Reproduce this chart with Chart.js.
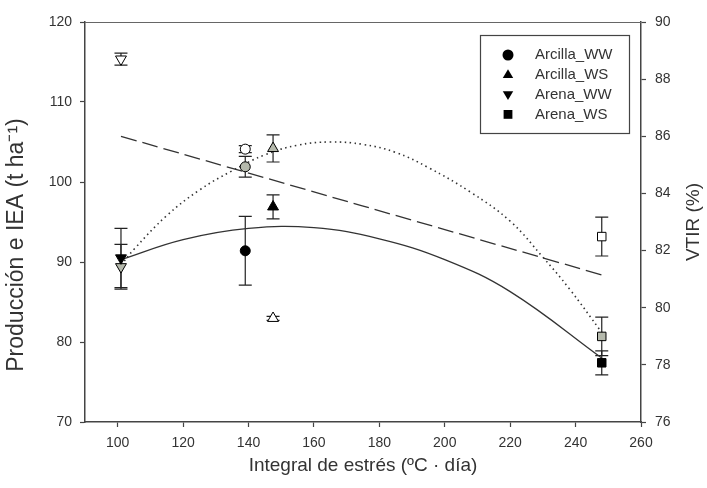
<!DOCTYPE html>
<html>
<head>
<meta charset="utf-8">
<script src="https://cdn.jsdelivr.net/npm/chart.js"></script>
<style>
  body { margin: 0; background: #fff; }
  #wrap { width: 707px; height: 488px; }
</style>
</head>
<body>
<div id="wrap"><canvas id="stressChart" width="707" height="488"></canvas></div>
<script>
// treatments, in the order of the legend
const treatments = ["Arcilla_WW", "Arcilla_WS", "Arena_WW", "Arena_WS"];
const markerStyles = ["circle", "triangle", "triangle", "rect"];
const markerRotation = [0, 0, 180, 0];

// stress integral (ºC · día) of each treatment
const stressIntegral = [139, 147.5, 101, 248];

// production (black, left axis)
const yieldMean = [91.4, 96.9, 90.5, 77.4];
const yieldErr = [4.3, 1.5, 3.7, 1.5];
// IEA (grey, left axis)
const ieaMean = [101.9, 104.2, 89.4, 80.7];
const ieaErr = [1.3, 1.7, 2.8, 2.4];
// VTIR (open, right axis)
const vtirMean = [85.55, 79.63, 88.7, 82.49];
const vtirErr = [0.12, 0.07, 0.21, 0.68];

// fitted curves
const yieldFitX = [101, 120, 140, 160, 180, 200, 220, 248];
const yieldFitY = [90.3, 92.8, 94.2, 94.3, 92.9, 90.3, 86.3, 78.0];
const ieaFitX = [101, 105, 115, 125, 135, 145, 155, 165, 175, 185, 195, 208, 220, 230, 238, 248];
const ieaFitY = [89.6, 91.6, 95.8, 99.0, 101.4, 103.4, 104.6, 105.0, 104.7, 103.7, 101.8, 98.7, 95.1, 90.6, 86.7, 81.2];
const vtirFitX = [101, 248];
const vtirFitY = [86.0, 81.15];

// tick labels
const xTicks = [100, 120, 140, 160, 180, 200, 220, 240, 260];
const leftTicks = [70, 80, 90, 100, 110, 120];
const rightTicks = [76, 78, 80, 82, 84, 86, 88, 90];

const FONT = "'Liberation Sans', Arial, sans-serif";
const AXIS = "#444";
const GREY = "#b5b9ac";

function pts(xs, ys) {
  return xs.map((x, i) => ({ x: x, y: ys[i] }));
}

function markerSet(label, values, errs, fill, axis) {
  return {
    label: label,
    data: pts(stressIntegral, values),
    yAxisID: axis,
    errorBars: errs,
    showLine: false,
    pointStyle: markerStyles,
    rotation: markerRotation,
    pointRadius: [5, 6.3, 6.3, 6],
    pointBackgroundColor: fill,
    pointBorderColor: "#000",
    pointBorderWidth: 1,
    order: 1
  };
}

function fitSet(label, xs, ys, axis, dash, width) {
  return {
    label: label,
    data: pts(xs, ys),
    yAxisID: axis,
    showLine: true,
    pointRadius: 0,
    borderColor: "#333",
    borderWidth: width,
    borderDash: dash,
    tension: 0.4,
    fill: false,
    order: 5
  };
}

// error bars, drawn below the markers
const errorBarPlugin = {
  id: "errorBars",
  beforeDatasetsDraw(chart) {
    const ctx = chart.ctx;
    ctx.save();
    ctx.strokeStyle = "#222";
    ctx.lineWidth = 1.2;
    chart.data.datasets.forEach((ds, di) => {
      if (!ds.errorBars) return;
      const meta = chart.getDatasetMeta(di);
      const yScale = chart.scales[ds.yAxisID];
      meta.data.forEach((el, i) => {
        const v = ds.data[i].y;
        const e = ds.errorBars[i];
        const top = yScale.getPixelForValue(v + e);
        const bot = yScale.getPixelForValue(v - e);
        const x = el.x;
        ctx.beginPath();
        ctx.moveTo(x, top); ctx.lineTo(x, bot);
        ctx.moveTo(x - 6.5, top); ctx.lineTo(x + 6.5, top);
        ctx.moveTo(x - 6.5, bot); ctx.lineTo(x + 6.5, bot);
        ctx.stroke();
      });
    });
    ctx.restore();
  }
};

function drawMarker(ctx, style, rot, x, y, r) {
  ctx.beginPath();
  if (style === "circle") {
    ctx.arc(x, y, r, 0, Math.PI * 2);
  } else if (style === "rect") {
    const s = r * 0.8;
    ctx.rect(x - s, y - s, 2 * s, 2 * s);
  } else {
    const d = rot === 180 ? -1 : 1;
    ctx.moveTo(x, y - d * r);
    ctx.lineTo(x + r * 0.95, y + d * r * 0.6);
    ctx.lineTo(x - r * 0.95, y + d * r * 0.6);
    ctx.closePath();
  }
  ctx.fill();
}

// frame top line, legend box and axis titles
const decorPlugin = {
  id: "decor",
  afterDraw(chart) {
    const ctx = chart.ctx;
    const a = chart.chartArea;
    ctx.save();
    ctx.strokeStyle = "#666";
    ctx.lineWidth = 1;
    ctx.beginPath();
    ctx.moveTo(a.left, a.top + 0.5);
    ctx.lineTo(a.right, a.top + 0.5);
    ctx.stroke();

    // legend
    ctx.strokeStyle = AXIS;
    ctx.lineWidth = 1.2;
    ctx.strokeRect(480.5, 35.5, 149, 98);
    ctx.font = "15px " + FONT;
    ctx.textBaseline = "middle";
    treatments.forEach((t, i) => {
      const y = 55 + i * 19.8;
      ctx.fillStyle = "#000";
      drawMarker(ctx, markerStyles[i], markerRotation[i], 508, y, 5.5);
      ctx.fillStyle = "#333";
      ctx.fillText(t, 535, y);
    });

    // axis titles
    ctx.fillStyle = "#333";
    ctx.textAlign = "center";
    ctx.textBaseline = "middle";
    ctx.font = "19px " + FONT;
    ctx.fillText("Integral de estrés (ºC · día)", (a.left + a.right) / 2, 466);

    ctx.save();
    ctx.translate(694, (a.top + a.bottom) / 2);
    ctx.rotate(-Math.PI / 2);
    ctx.fillText("VTIR (%)", 0, 0);
    ctx.restore();

    ctx.save();
    ctx.translate(17, 245);
    ctx.rotate(-Math.PI / 2);
    ctx.font = "23px " + FONT;
    ctx.fillText("Producción e IEA (t ha⁻¹)", 0, 0);
    ctx.restore();
    ctx.restore();
  }
};

function fixedTicks(list) {
  return function (scale) {
    scale.ticks = list.map(v => ({ value: v }));
  };
}

const tickFont = { family: FONT, size: 14 };

new Chart(document.getElementById("stressChart"), {
  type: "scatter",
  data: {
    datasets: [
      markerSet("Producción", yieldMean, yieldErr, "#000", "y"),
      markerSet("IEA", ieaMean, ieaErr, GREY, "y"),
      markerSet("VTIR", vtirMean, vtirErr, "#fff", "y2"),
      fitSet("Producción ajuste", yieldFitX, yieldFitY, "y", [], 1.3),
      fitSet("IEA ajuste", ieaFitX, ieaFitY, "y", [1.5, 3.5], 1.6),
      fitSet("VTIR ajuste", vtirFitX, vtirFitY, "y2", [16, 6], 1.3)
    ]
  },
  options: {
    responsive: false,
    animation: false,
    layout: { padding: { top: 22, left: 0, right: 0, bottom: 0 } },
    plugins: {
      legend: { display: false },
      tooltip: { enabled: false }
    },
    scales: {
      x: {
        type: "linear",
        min: 90,
        max: 260,
        afterBuildTicks: fixedTicks(xTicks),
        afterFit: s => { s.height = 66; },
        grid: { drawOnChartArea: false, tickLength: 5, tickColor: AXIS, tickWidth: 1.2 },
        border: { color: AXIS, width: 1.5 },
        ticks: { font: tickFont, color: "#333", padding: 8, maxRotation: 0 }
      },
      y: {
        type: "linear",
        position: "left",
        min: 70,
        max: 120,
        afterBuildTicks: fixedTicks(leftTicks),
        afterFit: s => { s.width = 85; },
        grid: { drawOnChartArea: false, tickLength: 5, tickColor: AXIS, tickWidth: 1.2 },
        border: { color: AXIS, width: 1.5 },
        ticks: { font: tickFont, color: "#333", padding: 8 }
      },
      y2: {
        type: "linear",
        position: "right",
        min: 76,
        max: 90,
        afterBuildTicks: fixedTicks(rightTicks),
        afterFit: s => { s.width = 66; },
        grid: { drawOnChartArea: false, tickLength: 5, tickColor: AXIS, tickWidth: 1.2 },
        border: { color: AXIS, width: 1.5 },
        ticks: { font: tickFont, color: "#333", padding: 9 }
      }
    }
  },
  plugins: [errorBarPlugin, decorPlugin]
});
</script>
</body>
</html>
